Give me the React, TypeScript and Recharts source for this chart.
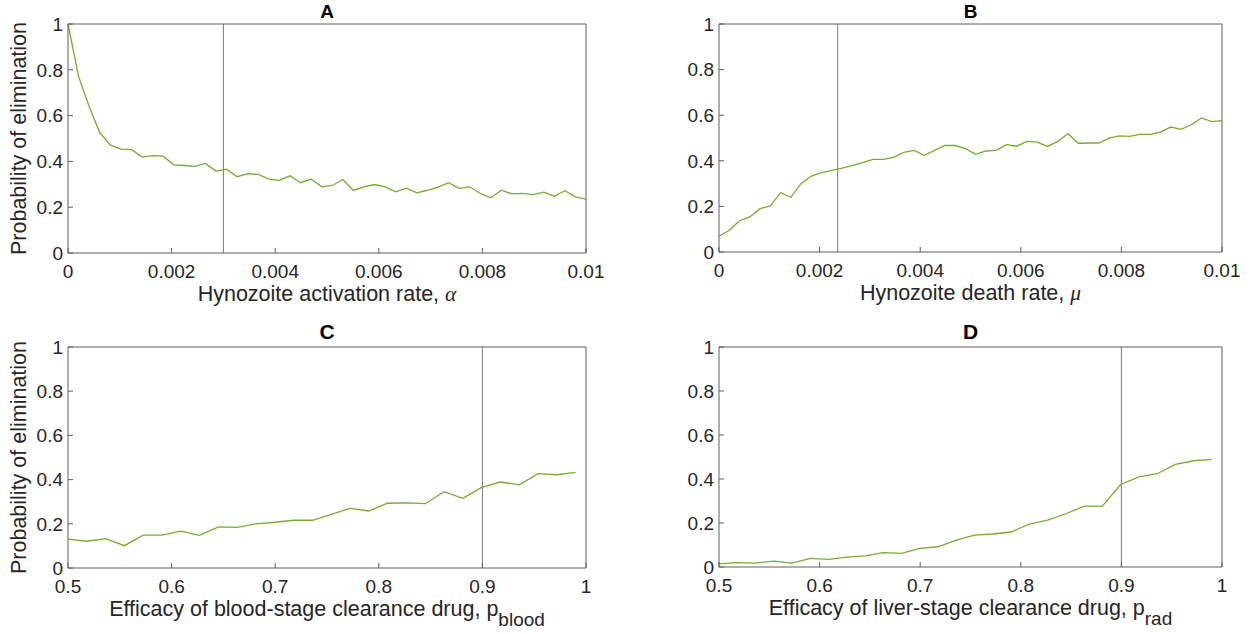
import React from 'react';
import { LineChart, Line, XAxis, YAxis, ReferenceLine } from 'recharts';

// x grids (linspace in the original study)
const rateGrid = [
  0, 0.000204, 0.000408, 0.000612, 0.000816, 0.00102, 0.001224, 0.001429, 0.001633, 0.001837,
  0.002041, 0.002245, 0.002449, 0.002653, 0.002857, 0.003061, 0.003265, 0.003469, 0.003673, 0.003878,
  0.004082, 0.004286, 0.00449, 0.004694, 0.004898, 0.005102, 0.005306, 0.00551, 0.005714, 0.005918,
  0.006122, 0.006327, 0.006531, 0.006735, 0.006939, 0.007143, 0.007347, 0.007551, 0.007755, 0.007959,
  0.008163, 0.008367, 0.008571, 0.008776, 0.00898, 0.009184, 0.009388, 0.009592, 0.009796, 0.01,
];
const efficacyGrid = [
  0.5, 0.5181, 0.5363, 0.5544, 0.5726, 0.5907, 0.6089, 0.627, 0.6452, 0.6633,
  0.6815, 0.6996, 0.7178, 0.7359, 0.7541, 0.7722, 0.7904, 0.8085, 0.8267, 0.8448,
  0.863, 0.8811, 0.8993, 0.9174, 0.9356, 0.9537, 0.9719, 0.99,
];

// probability of elimination
const activationElim = [
  1.0, 0.771, 0.64, 0.526, 0.472, 0.454, 0.452, 0.419, 0.425, 0.423,
  0.385, 0.382, 0.378, 0.391, 0.358, 0.366, 0.333, 0.347, 0.343, 0.323,
  0.317, 0.337, 0.307, 0.323, 0.289, 0.295, 0.321, 0.273, 0.289, 0.299,
  0.289, 0.267, 0.283, 0.263, 0.274, 0.288, 0.307, 0.282, 0.289, 0.26,
  0.241, 0.274, 0.258, 0.26, 0.255, 0.266, 0.248, 0.272, 0.245, 0.235,
];
const deathElim = [
  0.069, 0.095, 0.137, 0.154, 0.19, 0.202, 0.26, 0.24, 0.301, 0.333,
  0.348, 0.358, 0.368, 0.38, 0.392, 0.406, 0.406, 0.415, 0.437, 0.446,
  0.424, 0.446, 0.467, 0.467, 0.453, 0.428, 0.443, 0.446, 0.471, 0.464,
  0.485, 0.482, 0.463, 0.485, 0.519, 0.477, 0.478, 0.478, 0.499, 0.509,
  0.507, 0.516, 0.516, 0.526, 0.548, 0.538, 0.558, 0.588, 0.572, 0.576,
];
const bloodElim = [
  0.131, 0.121, 0.133, 0.101, 0.149, 0.149, 0.167, 0.148, 0.186, 0.184,
  0.2, 0.207, 0.216, 0.216, 0.243, 0.27, 0.258, 0.293, 0.295, 0.291,
  0.345, 0.315, 0.365, 0.389, 0.376, 0.427, 0.422, 0.433,
];
const liverElim = [
  0.014, 0.02, 0.018, 0.027, 0.018, 0.039, 0.035, 0.045, 0.051, 0.065,
  0.062, 0.085, 0.092, 0.122, 0.145, 0.15, 0.159, 0.195, 0.213, 0.242,
  0.277, 0.277, 0.375, 0.41, 0.424, 0.466, 0.483, 0.489,
];

const rateTicks = [0, 0.002, 0.004, 0.006, 0.008, 0.01];
const efficacyTicks = [0.5, 0.6, 0.7, 0.8, 0.9, 1];
const probTicks = [0, 0.2, 0.4, 0.6, 0.8, 1];

const AXIS = '#5f5f5f';
const TEXT = '#262626';
const GREEN = '#77AC30';
const FONT = '"Liberation Sans", Arial, Helvetica, sans-serif';
const PAD_TOP = 36;

const toRows = (xs: number[], ys: number[]) => xs.map((x, i) => ({ x, y: ys[i] }));

const greek = (ch: string) => (
  <tspan fontFamily='"Liberation Serif", "DejaVu Serif", serif' fontStyle="italic">{ch}</tspan>
);

function Panel({ plotL, plotT, plotW, plotH, rows, domain, xTicks, refX, title, titleSize, titleGap, xLabel, yLabel }: any) {
  const width = 68 + plotW + 30;
  const height = PAD_TOP + plotH + 64;
  return (
    <div style={{ position: 'absolute', left: plotL - 68, top: plotT - PAD_TOP }}>
      <LineChart width={width} height={height} data={rows} margin={{ top: PAD_TOP - 1, right: 29, bottom: 4, left: 0 }}>
        <XAxis
          xAxisId="b"
          dataKey="x"
          type="number"
          domain={domain}
          ticks={xTicks}
          interval={0}
          height={60}
          stroke={AXIS}
          tickSize={-5}
          tickMargin={16.5}
          tick={{ fill: TEXT, fontSize: 19 }}
          label={(p: any) => (
            <text x={p.viewBox.x + p.viewBox.width / 2} y={p.viewBox.y + 48} textAnchor="middle" fontSize={21.5} fill={TEXT}>
              {xLabel}
            </text>
          )}
        />
        <XAxis
          xAxisId="t"
          orientation="top"
          dataKey="x"
          type="number"
          domain={domain}
          ticks={xTicks}
          interval={0}
          height={1}
          stroke={AXIS}
          tickSize={-5}
          tick={false}
          label={(p: any) => (
            <text x={p.viewBox.x + p.viewBox.width / 2} y={p.viewBox.y + 1 - titleGap} textAnchor="middle" fontSize={titleSize} fontWeight="bold" fill="#000">
              {title}
            </text>
          )}
        />
        <YAxis
          yAxisId="l"
          type="number"
          domain={[0, 1]}
          ticks={probTicks}
          interval={0}
          width={68}
          stroke={AXIS}
          tickSize={-5}
          tickMargin={10}
          tick={{ fill: TEXT, fontSize: 19 }}
          label={(p: any) =>
            yLabel ? (
              <text
                x={26}
                y={p.viewBox.y + p.viewBox.height / 2}
                transform={`rotate(-90, 26, ${p.viewBox.y + p.viewBox.height / 2})`}
                textAnchor="middle"
                fontSize={21.5}
                fill={TEXT}
              >
                {yLabel}
              </text>
            ) : null
          }
        />
        <YAxis
          yAxisId="r"
          orientation="right"
          type="number"
          domain={[0, 1]}
          ticks={probTicks}
          interval={0}
          width={1}
          stroke={AXIS}
          tickSize={-5}
          tick={false}
        />
        <ReferenceLine xAxisId="b" yAxisId="l" x={refX} stroke="#7a7a7a" strokeWidth={1} />
        <Line
          xAxisId="b"
          yAxisId="l"
          type="linear"
          dataKey="y"
          stroke={GREEN}
          strokeWidth={1.3}
          dot={false}
          activeDot={false}
          isAnimationActive={false}
        />
      </LineChart>
    </div>
  );
}

export default function App() {
  return (
    <div style={{ position: 'absolute', left: 0, top: 0, width: 1253, height: 634, overflow: 'hidden', background: '#fff', fontFamily: FONT }}>
      <Panel
        plotL={68} plotT={24} plotW={518} plotH={229}
        rows={toRows(rateGrid, activationElim)}
        domain={[0, 0.01]} xTicks={rateTicks} refX={0.003}
        title="A" titleSize={19} titleGap={6}
        xLabel={<>Hynozoite activation rate, {greek('α')}</>}
        yLabel="Probability of elimination"
      />
      <Panel
        plotL={719} plotT={24} plotW={503} plotH={228}
        rows={toRows(rateGrid, deathElim)}
        domain={[0, 0.01]} xTicks={rateTicks} refX={0.00236}
        title="B" titleSize={19} titleGap={6}
        xLabel={<>Hynozoite death rate, {greek('μ')}</>}
      />
      <Panel
        plotL={68} plotT={347} plotW={518} plotH={221}
        rows={toRows(efficacyGrid, bloodElim)}
        domain={[0.5, 1]} xTicks={efficacyTicks} refX={0.9}
        title="C" titleSize={21} titleGap={8}
        xLabel={<>Efficacy of blood-stage clearance drug, p<tspan dy={10} fontSize={19}>blood</tspan></>}
        yLabel="Probability of elimination"
      />
      <Panel
        plotL={719} plotT={347} plotW={503} plotH={220}
        rows={toRows(efficacyGrid, liverElim)}
        domain={[0.5, 1]} xTicks={efficacyTicks} refX={0.9}
        title="D" titleSize={21} titleGap={8}
        xLabel={<>Efficacy of liver-stage clearance drug, p<tspan dy={10} fontSize={19}>rad</tspan></>}
      />
    </div>
  );
}
